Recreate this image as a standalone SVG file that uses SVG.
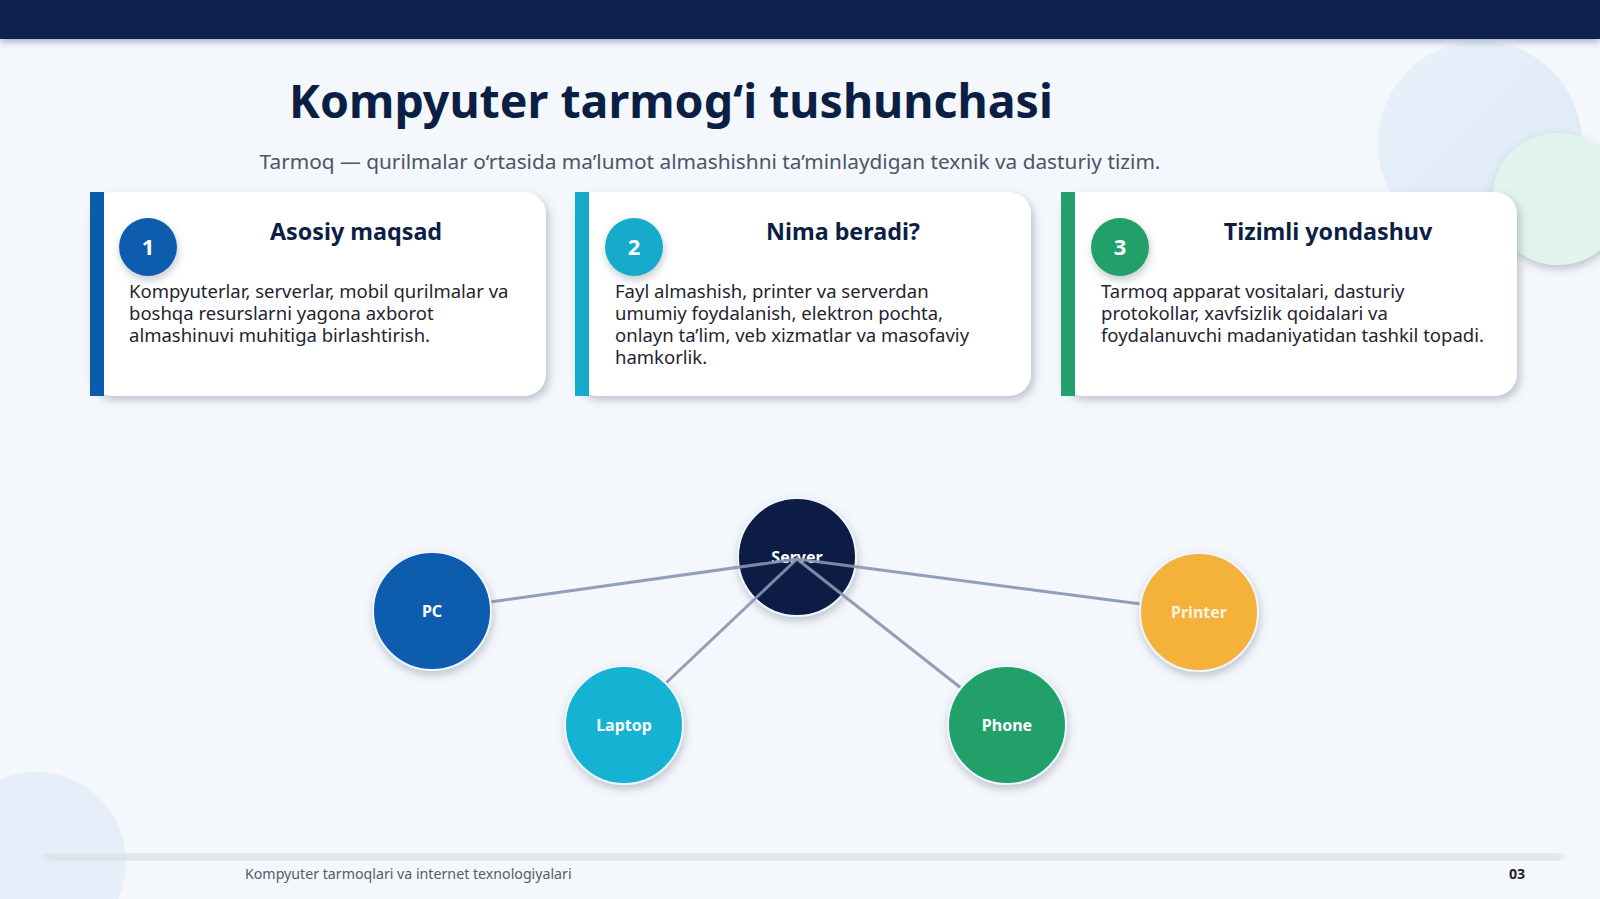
<svg xmlns="http://www.w3.org/2000/svg" width="1600" height="899" viewBox="0 0 1600 899">
<defs>
<style>
.title{font-family:"Noto Sans","Open Sans",sans-serif;font-weight:700;font-size:46.5px;fill:#0b1f45}
.sub{font-family:"Noto Sans","Open Sans",sans-serif;font-size:20.8px;fill:#4a5568}
.head{font-family:"Noto Sans","Open Sans",sans-serif;font-weight:700;font-size:23.3px;fill:#0b1f45}
.body{font-family:"Noto Sans","Open Sans",sans-serif;font-size:18.5px;fill:#1f2430}
.num{font-family:"Noto Sans","Open Sans",sans-serif;font-weight:700;font-size:22px;fill:#ffffff}
.lbl{font-family:"Noto Sans","Open Sans",sans-serif;font-weight:700;font-size:16px;fill:#ffffff}
.foot{font-family:"Noto Sans","Open Sans",sans-serif;font-size:14.2px;fill:#555d6b}
.card{fill:#ffffff;filter:url(#cardShadow)}
.node{stroke:#eef6ff;stroke-width:2;filter:url(#nodeShadow)}
.conn{stroke:#8696b0;stroke-width:3;stroke-linecap:round;fill:none;opacity:0.9}
</style>
<filter id="cardShadow" x="-10%" y="-15%" width="120%" height="140%">
<feDropShadow dx="3" dy="4" stdDeviation="4" flood-color="#6b7588" flood-opacity="0.4"/>
</filter>
<filter id="nodeShadow" x="-30%" y="-30%" width="160%" height="160%">
<feDropShadow dx="1" dy="4" stdDeviation="4" flood-color="#56627a" flood-opacity="0.35"/>
</filter>
<filter id="barShadow" x="-5%" y="-50%" width="110%" height="250%">
<feDropShadow dx="0" dy="3" stdDeviation="3" flood-color="#0b1f45" flood-opacity="0.3"/>
</filter>
<filter id="blur4"><feGaussianBlur stdDeviation="3"/></filter>
<linearGradient id="bgBlue" x1="0" y1="0" x2="1" y2="1">
<stop offset="0" stop-color="#e8f1fb"/>
<stop offset="1" stop-color="#dde9f6"/>
</linearGradient>
</defs>
<rect width="1600" height="899" fill="#f4f7fb"/>
<!-- decorative circles -->
<circle cx="1480" cy="143" r="102" fill="url(#bgBlue)"/>
<circle cx="1558" cy="199" r="66" fill="#e2f4ee" filter="url(#nodeShadow)"/>
<circle cx="36" cy="862" r="90" fill="#e6eff9"/>
<!-- top bar -->
<rect x="0" y="0" width="1600" height="39" fill="#0b2250" filter="url(#barShadow)"/>
<!-- title -->
<text class="title" x="671" y="118" text-anchor="middle">Kompyuter tarmog‘i tushunchasi</text>
<text class="sub" x="710" y="169" text-anchor="middle">Tarmoq — qurilmalar o‘rtasida ma’lumot almashishni ta’minlaydigan texnik va dasturiy tizim.</text>
<!-- card 1 -->
<g id="card1">
<rect class="card" x="90" y="192" width="456" height="204" rx="22"/>
<rect x="90" y="192" width="14" height="204" fill="#0b5cad"/>
<circle cx="148" cy="247" r="29" fill="#0b5cad" filter="url(#nodeShadow)"/>
<text class="num" x="148" y="255" text-anchor="middle">1</text>
<text class="head" x="356" y="240" text-anchor="middle">Asosiy maqsad</text>
<text class="body" x="129" y="298">Kompyuterlar, serverlar, mobil qurilmalar va</text>
<text class="body" x="129" y="320">boshqa resurslarni yagona axborot</text>
<text class="body" x="129" y="342">almashinuvi muhitiga birlashtirish.</text>
</g>
<!-- card 2 -->
<g id="card2">
<rect class="card" x="575" y="192" width="456" height="204" rx="22"/>
<rect x="575" y="192" width="14" height="204" fill="#17abcb"/>
<circle cx="634" cy="247" r="29" fill="#17abcb" filter="url(#nodeShadow)"/>
<text class="num" x="634" y="255" text-anchor="middle">2</text>
<text class="head" x="843" y="240" text-anchor="middle">Nima beradi?</text>
<text class="body" x="615" y="298">Fayl almashish, printer va serverdan</text>
<text class="body" x="615" y="320">umumiy foydalanish, elektron pochta,</text>
<text class="body" x="615" y="342">onlayn ta’lim, veb xizmatlar va masofaviy</text>
<text class="body" x="615" y="364">hamkorlik.</text>
</g>
<!-- card 3 -->
<g id="card3">
<rect class="card" x="1061" y="192" width="456" height="204" rx="22"/>
<rect x="1061" y="192" width="14" height="204" fill="#23a06b"/>
<circle cx="1120" cy="247" r="29" fill="#23a06b" filter="url(#nodeShadow)"/>
<text class="num" x="1120" y="255" text-anchor="middle">3</text>
<text class="head" x="1328" y="240" text-anchor="middle">Tizimli yondashuv</text>
<text class="body" x="1101" y="298">Tarmoq apparat vositalari, dasturiy</text>
<text class="body" x="1101" y="320">protokollar, xavfsizlik qoidalari va</text>
<text class="body" x="1101" y="342">foydalanuvchi madaniyatidan tashkil topadi.</text>
</g>
<!-- network -->
<g id="server">
<circle class="node" cx="797" cy="557" r="59" fill="#0b1f45"/>
<text class="lbl" x="797" y="563" text-anchor="middle">Server</text>
</g>
<g id="connectors">
<line class="conn" x1="797" y1="559" x2="490" y2="602"/>
<line class="conn" x1="797" y1="559" x2="1141" y2="604"/>
<line class="conn" x1="797" y1="559" x2="666" y2="683"/>
<line class="conn" x1="797" y1="559" x2="961" y2="688"/>
</g>
<g id="pc">
<circle class="node" cx="432" cy="611" r="59" fill="#0b5cad"/>
<text class="lbl" x="432" y="617" text-anchor="middle">PC</text>
</g>
<g id="laptop">
<circle class="node" cx="624" cy="725" r="59" fill="#17b2d3"/>
<text class="lbl" x="624" y="731" text-anchor="middle">Laptop</text>
</g>
<g id="phone">
<circle class="node" cx="1007" cy="725" r="59" fill="#23a06b"/>
<text class="lbl" x="1007" y="731" text-anchor="middle">Phone</text>
</g>
<g id="printer">
<circle class="node" cx="1199" cy="612" r="59" fill="#f4b23a"/>
<text class="lbl" x="1199" y="618" text-anchor="middle" fill-opacity="0.85">Printer</text>
</g>
<!-- footer -->
<rect x="43" y="854" width="1520" height="6" rx="3" fill="#d5dbe4" filter="url(#blur4)"/>
<text class="foot" x="245" y="879">Kompyuter tarmoqlari va internet texnologiyalari</text>
<text class="foot" x="1517" y="879" text-anchor="middle" style="font-weight:700;fill:#1f2430">03</text>
</svg>
